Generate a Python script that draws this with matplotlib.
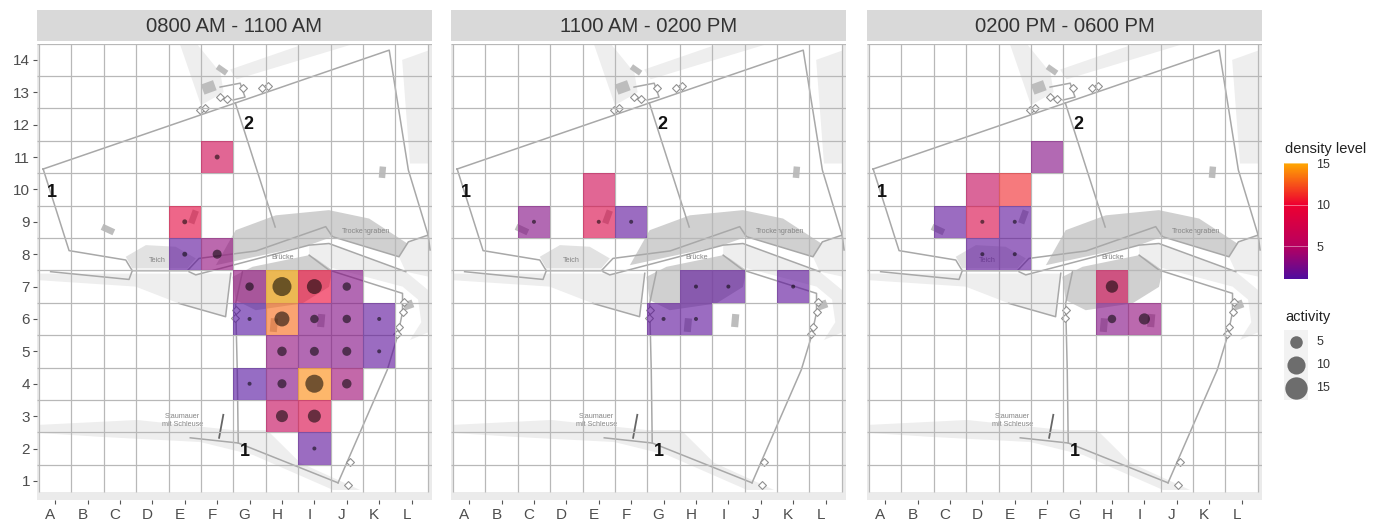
import matplotlib
matplotlib.use("Agg")
import matplotlib.pyplot as plt
from matplotlib.colors import LinearSegmentedColormap, Normalize
from matplotlib.cm import ScalarMappable
from matplotlib.patches import Rectangle
from matplotlib.transforms import ScaledTranslation

plt.rcParams['font.family'] = ['Liberation Sans', 'DejaVu Sans']

W, H = 1380, 525

titles = ['0800 AM - 1100 AM', '1100 AM - 0200 PM', '0200 PM - 0600 PM']
col_labels = list('ABCDEFGHIJKL')
row_labels = list(range(1, 15))

# cells: column, row, density level, activity (0 = no dot)
p1_col = [6, 5, 5, 6, 7, 8, 9, 10, 7, 8, 9, 10, 11, 8, 9, 10, 11, 7, 8, 9, 10, 8, 9, 9]
p1_row = [11, 9, 8, 8, 7, 7, 7, 7, 6, 6, 6, 6, 6, 5, 5, 5, 5, 4, 4, 4, 4, 3, 3, 2]
p1_den = [7, 9, 1.5, 3.5, 3.5, 15, 10, 3, 1.2, 13, 3, 3, 1.5, 3.5, 3, 3, 1.5, 1.2, 3, 14, 4, 6, 8, 1.5]
p1_act = [1.3, 1.3, 1.3, 3.4, 3, 13.6, 8.6, 3, 1, 8.6, 3, 3, 1, 3.7, 3.4, 3.4, 1, 1, 3.4, 12.3, 3.7, 5.7, 6.6, 1]

p2_col = [3, 5, 5, 6, 8, 9, 11, 7, 8]
p2_row = [9, 10, 9, 9, 7, 7, 7, 6, 6]
p2_den = [3, 7, 8, 1.5, 1.5, 1.5, 1.5, 1.5, 1.5]
p2_act = [1, 0, 1, 1, 1, 1, 1, 1, 1]

p3_col = [6, 4, 5, 3, 4, 5, 4, 5, 8, 8, 9]
p3_row = [11, 10, 10, 9, 9, 9, 8, 8, 7, 6, 6]
p3_den = [3, 6, 11, 1.5, 8, 1.5, 1.5, 1.5, 7, 3, 3.5]
p3_act = [0, 0, 0, 0, 1, 1, 1, 1, 6, 3, 5]

panels = [
    (p1_col, p1_row, p1_den, p1_act),
    (p2_col, p2_row, p2_den, p2_act),
    (p3_col, p3_row, p3_den, p3_act),
]

# map underlay in grid units
light_areas = [
    [(0.45, 7.4), (6.4, 7.4), (6.26, 6.07), (4.82, 6.48), (3.48, 7.0), (0.45, 7.2)],
    [(4.86, 14.46), (5.5, 12.6), (6.2, 13.0), (6.1, 13.6), (5.4, 14.46)],
    [(6.6, 13.4), (10.1, 14.46), (8.6, 14.46), (6.4, 13.7)],
    [(11.71, 14.0), (12.55, 14.3), (12.55, 10.8), (11.95, 10.8)],
    [(0.51, 2.73), (3.53, 2.88), (6.49, 2.57), (7.54, 2.57), (8.56, 1.56), (10.41, 0.72),
     (9.58, 0.72), (7.11, 1.8), (5.48, 2.2), (2.39, 2.36), (0.51, 2.48)],
    [(8.84, 8.28), (9.45, 8.33), (11.82, 7.46), (12.5, 6.9), (12.55, 5.6), (11.95, 5.35),
     (12.3, 5.9), (12.2, 6.6), (11.72, 7.0), (9.45, 7.6), (8.84, 7.97)],
    [(11.61, 7.92), (11.9, 8.38), (12.51, 8.59), (12.55, 7.3), (11.82, 7.46)],
]
pond = [(3.18, 7.92), (3.8, 8.28), (4.72, 8.23), (5.34, 7.87), (5.08, 7.56), (3.38, 7.56)]
dark_areas = [
    [(5.96, 7.66), (6.57, 8.74), (7.81, 9.2), (9.45, 9.36), (10.69, 9.1), (11.87, 8.33),
     (11.61, 7.92), (9.56, 8.54), (8.84, 8.28)],
    [(6.47, 7.3), (6.57, 6.58), (7.19, 6.27), (8.63, 6.48), (9.45, 6.99), (9.56, 7.51),
     (9.04, 7.87), (8.84, 7.97), (7.09, 7.61)],
]
wall_lines = [
    [(0.63, 10.63), (11.31, 14.30), (11.90, 10.60), (12.51, 8.59), (11.90, 8.38), (11.61, 7.92),
     (9.56, 8.54), (9.35, 8.85), (7.2, 8.1), (5.44, 7.87), (5.08, 7.49), (3.38, 7.49),
     (3.18, 7.82), (1.43, 8.11), (0.63, 10.63)],
    [(0.86, 7.46), (3.28, 7.22), (3.38, 7.49)],
    [(6.56, 12.67), (7.79, 8.84)],
    [(6.09, 13.16), (6.71, 13.28), (6.86, 12.85), (6.49, 12.76)],
    [(5.13, 7.46), (5.34, 7.36), (8.84, 8.28), (9.45, 8.33), (11.82, 7.46)],
    [(8.84, 7.97), (9.45, 7.51), (11.72, 6.79), (11.72, 6.2), (11.56, 5.45), (11.25, 4.43), (9.73, 0.94)],
    [(6.42, 7.41), (6.26, 6.07), (4.82, 6.48)],
    [(6.78, 7.46), (6.57, 6.48), (6.62, 4.42), (6.65, 2.17)],
    [(5.17, 2.33), (6.65, 2.17), (9.73, 0.94)],
    [(12.51, 8.59), (12.57, 8.13)],
]
dam_line = [(6.19, 3.04), (6.06, 2.33)]
bld_x = [5.74, 6.15, 2.63, 11.1, 5.27, 7.75, 9.21, 11.9]
bld_y = [13.15, 13.69, 8.76, 10.53, 9.15, 5.81, 5.95, 6.43]
bld_w = [0.4, 0.35, 0.4, 0.35, 0.42, 0.42, 0.4, 0.3]
bld_h = [0.33, 0.18, 0.2, 0.2, 0.2, 0.22, 0.22, 0.25]
bld_ang = [20, -35, -25, 85, 70, 85, 85, 20]
tower_x = [5.48, 5.63, 7.39, 7.57, 6.09, 6.31, 6.80, 11.77, 11.72, 11.62, 11.56, 6.57, 6.55, 10.1, 10.04]
tower_y = [12.45, 12.51, 13.13, 13.19, 12.85, 12.79, 13.13, 6.53, 6.2, 5.76, 5.53, 6.27, 6.02, 1.59, 0.88]
map_words = ['Teich', 'Trockengraben', 'Brücke', 'Staumauer\nmit Schleuse']
word_x = [4.15, 10.58, 8.01, 4.92]
word_y = [7.79, 8.69, 7.9, 2.85]
num_words = ['1', '2', '1']
num_x = [0.91, 6.96, 6.86]
num_y = [9.89, 11.99, 1.9]

legend_levels = [5, 10, 15]
legend_act = [5, 10, 15]

cmap = LinearSegmentedColormap.from_list('dens', [
    (0, '#4f0c9e'), (4 / 14, '#b8005f'), (9 / 14, '#ee0030'), (1, '#ffa800')])
norm = Normalize(1.1, 15)


def dot_size(a):
    # area scale: 4 px across at 1, 20 px across at 15
    d_px2 = 16 + (a - 1) * 27.4
    return d_px2 * 0.72 ** 2


def px_axes(x0, y0, x1, y1):
    return fig.add_axes([x0 / W, 1 - y1 / H, (x1 - x0) / W, (y1 - y0) / H])


def draw_map(ax):
    ax.fill_between([0.51, 12.55], 0.67, 14.5, color='white', lw=0, zorder=0.5)
    for a in light_areas:
        ax.fill(*zip(*a), color='#eeeeee', lw=0, zorder=1)
    ax.fill(*zip(*pond), color='#e2e2e2', lw=0, zorder=1.1)
    for a in dark_areas:
        ax.fill(*zip(*a), color='#d0d0d0', lw=0, zorder=1.2)
    for l in wall_lines:
        ax.plot(*zip(*l), color='#a8a8a8', lw=1.1, zorder=2)
    ax.plot(*zip(*dam_line), color='#666666', lw=1.3, zorder=2)
    for bx, by, bw, bh, ang in zip(bld_x, bld_y, bld_w, bld_h, bld_ang):
        ax.add_patch(Rectangle((bx - bw / 2, by - bh / 2), bw, bh, angle=ang, rotation_point='center',
                               color='#bdbdbd', lw=0, zorder=2))
    ax.scatter(tower_x, tower_y, s=16, marker='D', fc='white', ec='#909090', lw=0.8, zorder=2.1)
    for i in range(len(map_words)):
        ax.text(word_x[i], word_y[i], map_words[i], fontsize=5.2, color='#858585',
                ha='center', va='center', zorder=2.2)
    for i in range(len(num_words)):
        ax.text(num_x[i], num_y[i], num_words[i], fontsize=13, fontweight='bold', color='#111111',
                ha='center', va='center', zorder=6)


fig = plt.figure(figsize=(W / 100, H / 100), dpi=100)

panel_left = [37, 451, 867]
for i, left in enumerate(panel_left):
    ax = px_axes(left, 44, left + 395, 500)
    ax.set_facecolor('#ebebeb')
    ax.set_xlim(0.44, 12.63)
    ax.set_ylim(0.41, 14.49)
    draw_map(ax)

    ax.vlines([g + 0.5 for g in range(0, 13)], 0.67, 14.5, color='#b8b8b8', lw=0.9, zorder=3)
    ax.hlines([g + 0.5 for g in range(1, 15)], 0.44, 12.63, color='#b8b8b8', lw=0.9, zorder=3)

    col, row, den, act = panels[i]
    for c, r, d in zip(col, row, den):
        ax.fill_between([c - 0.5, c + 0.5], r - 0.5, r + 0.5, color=cmap(norm(d)), alpha=0.6, lw=0, zorder=4)
    dots = [(c, r, a) for c, r, a in zip(col, row, act) if a > 0]
    ax.scatter([d[0] for d in dots], [d[1] for d in dots], s=[dot_size(d[2]) for d in dots],
               color='black', alpha=0.55, lw=0, zorder=5)

    ax.set_xticks(range(1, 13))
    ax.set_xticklabels(col_labels)
    ax.tick_params(axis='x', length=3, width=0.8, color='#555555', labelsize=11, labelcolor='#4d4d4d', pad=3)
    shift = ScaledTranslation(-5 / 100, 0, fig.dpi_scale_trans)
    for lab in ax.get_xticklabels():
        lab.set_transform(lab.get_transform() + shift)
    if i == 0:
        ax.set_yticks(row_labels)
        ax.tick_params(axis='y', length=3, width=0.8, color='#555555', labelsize=11, labelcolor='#4d4d4d', pad=2)
    else:
        ax.set_yticks([])
    for s in ax.spines.values():
        s.set_visible(False)

    strip = px_axes(left, 10, left + 395, 41)
    strip.set_facecolor('#d9d9d9')
    strip.set_xticks([])
    strip.set_yticks([])
    for s in strip.spines.values():
        s.set_visible(False)
    strip.text(0.5, 0.48, titles[i], transform=strip.transAxes, ha='center', va='center',
               fontsize=14.6, color='#333333')

# density legend
cax = px_axes(1284, 163, 1308, 279)
cb = fig.colorbar(ScalarMappable(norm=norm, cmap=cmap), cax=cax)
cb.set_ticks(legend_levels)
cb.outline.set_visible(False)
cax.tick_params(axis='y', length=0, labelsize=9, labelcolor='#333333', pad=6)
for lv in legend_levels:
    cax.axhline(lv, color='white', lw=0.5, alpha=0.6)
fig.text(1285 / W, 1 - 149 / H, 'density level', fontsize=10.5, color='#222222', va='center')

# activity legend
fig.text(1285 / W, 1 - 317 / H, 'activity', fontsize=10.5, color='#222222', va='center')
lax = px_axes(1284, 330, 1308, 400)
lax.set_facecolor('#f2f2f2')
lax.set_xlim(0, 1)
lax.set_ylim(0, 3)
lax.set_xticks([])
lax.set_yticks([])
for s in lax.spines.values():
    s.set_visible(False)
for k, a in enumerate(legend_act):
    lax.scatter([0.5], [2.5 - k], s=dot_size(a) * 1.25, color='black', alpha=0.55, lw=0)
    lax.text(1.35, 2.5 - k, str(a), fontsize=9, color='#333333', va='center', clip_on=False)

fig.savefig('out.png', dpi=100)
